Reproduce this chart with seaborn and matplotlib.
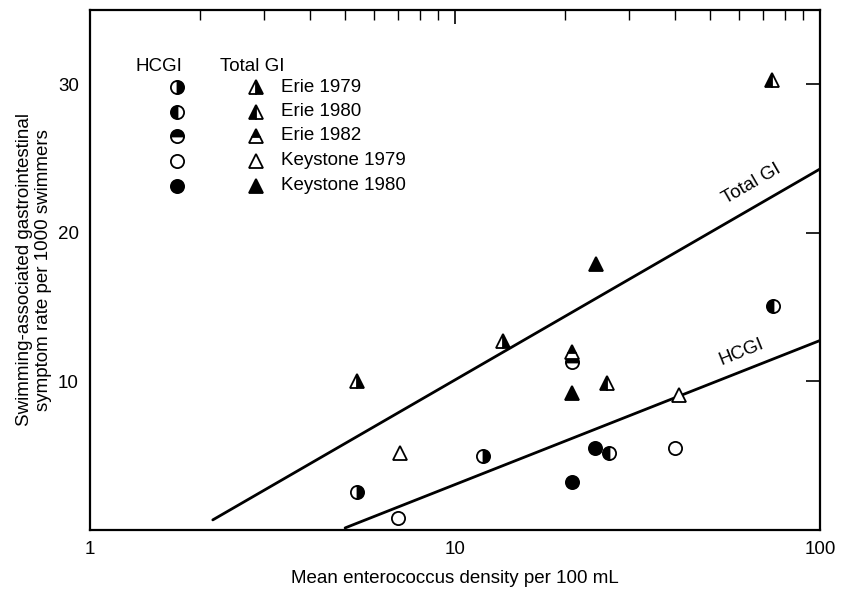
import numpy as np
import seaborn as sns
import matplotlib
matplotlib.use('Agg')
import matplotlib.pyplot as plt

# data (x = enterococci per 100 mL, y = rate per 1000 swimmers)
sites = ['Erie 1979', 'Erie 1980', 'Erie 1982', 'Keystone 1979', 'Keystone 1980']

erie79_x_total = [5.4, 13.5]
erie79_total = [10.0, 12.75]
erie79_x_hcgi = [5.4, 11.9]
erie79_hcgi = [2.55, 5.0]

erie80_x_total = [26.1, 73.9]
erie80_total = [9.9, 30.3]
erie80_x_hcgi = [26.4, 74.4]
erie80_hcgi = [5.2, 15.1]

erie82_x_total = [20.9]
erie82_total = [12.0]
erie82_x_hcgi = [20.9]
erie82_hcgi = [11.3]

key79_x_total = [7.07, 41.1]
key79_total = [5.2, 9.1]
key79_x_hcgi = [7.0, 40.0]
key79_hcgi = [0.8, 5.5]

key80_x_total = [20.9, 24.3]
key80_total = [9.2, 17.9]
key80_x_hcgi = [20.9, 24.2]
key80_hcgi = [3.2, 5.5]

# fitted lines (end points)
total_line_x = [2.17, 100]
total_line_y = [0.67, 24.3]
hcgi_line_x = [5.0, 100]
hcgi_line_y = [0.13, 12.75]

x_ticks = [1, 10, 100]
y_ticks = [10, 20, 30]

# marker fill per site: (fillstyle, main colour, alt colour)
fills = {
    'Erie 1979': ('right', 'black', 'white'),
    'Erie 1980': ('left', 'black', 'white'),
    'Erie 1982': ('top', 'black', 'white'),
    'Keystone 1979': ('full', 'white', 'white'),
    'Keystone 1980': ('full', 'black', 'black'),
}
points = {
    'Erie 1979': (erie79_x_hcgi, erie79_hcgi, erie79_x_total, erie79_total),
    'Erie 1980': (erie80_x_hcgi, erie80_hcgi, erie80_x_total, erie80_total),
    'Erie 1982': (erie82_x_hcgi, erie82_hcgi, erie82_x_total, erie82_total),
    'Keystone 1979': (key79_x_hcgi, key79_hcgi, key79_x_total, key79_total),
    'Keystone 1980': (key80_x_hcgi, key80_hcgi, key80_x_total, key80_total),
}

sns.set_style('white')
plt.rcParams['font.family'] = ['Liberation Sans', 'DejaVu Sans']
plt.rcParams['text.color'] = 'black'
plt.rcParams['axes.labelcolor'] = 'black'
plt.rcParams['xtick.color'] = 'black'
plt.rcParams['ytick.color'] = 'black'

fig, ax = plt.subplots(figsize=(8.41, 5.94), dpi=100)
fig.subplots_adjust(left=0.107, right=0.975, top=0.983, bottom=0.108)

# regression lines
sns.lineplot(x=total_line_x, y=total_line_y, color='black', lw=2, ax=ax)
sns.lineplot(x=hcgi_line_x, y=hcgi_line_y, color='black', lw=2, ax=ax)


def mk(marker, site, size):
    fs, c1, c2 = fills[site]
    return dict(marker=marker, linestyle='', fillstyle=fs, markerfacecolor=c1,
                markerfacecoloralt=c2, markeredgecolor='black',
                markeredgewidth=1.3, markersize=size)


for s in sites:
    hx, hy, tx, ty = points[s]
    ax.plot(hx, hy, **mk('o', s, 9.5), zorder=3)
    ax.plot(tx, ty, **mk('^', s, 10), zorder=4)

ax.set_xscale('log')
ax.set_xlim(1, 100)
ax.set_ylim(0, 35)
ax.set_xticks(x_ticks)
ax.set_xticklabels([str(t) for t in x_ticks])
ax.set_yticks(y_ticks)
ax.set_yticks([], minor=True)
ax.tick_params(axis='both', which='major', direction='in', length=10, width=1.2,
               labelsize=13.5, top=True, right=True, pad=8)
ax.tick_params(axis='x', which='minor', direction='in', length=7, width=1,
               top=True)
for sp in ax.spines.values():
    sp.set_linewidth(1.6)
    sp.set_color('black')

ax.set_xlabel('Mean enterococcus density per 100 mL', fontsize=13.5, labelpad=9)
ax.set_ylabel('Swimming-associated gastrointestinal\nsymptom rate per 1000 swimmers',
              fontsize=13.5, labelpad=4)

# line labels
ax.text(65.1, 23.3, 'Total GI', rotation=30, fontsize=13.5, ha='center', va='center')
ax.text(61.1, 12.0, 'HCGI', rotation=22, fontsize=13.5, ha='center', va='center')

# hand-made legend
ax.text(0.095, 0.892, 'HCGI', transform=ax.transAxes, fontsize=13.5, ha='center', va='center')
ax.text(0.222, 0.892, 'Total GI', transform=ax.transAxes, fontsize=13.5, ha='center', va='center')
rows = [0.852, 0.804, 0.758, 0.710, 0.662]
for s, ry in zip(sites, rows):
    ax.plot([0.119], [ry], transform=ax.transAxes, clip_on=False, **mk('o', s, 9.5))
    ax.plot([0.227], [ry], transform=ax.transAxes, clip_on=False, **mk('^', s, 10))
    ax.text(0.261, ry, s, transform=ax.transAxes, fontsize=13.5, va='center')

fig.savefig('out.png', dpi=100)
